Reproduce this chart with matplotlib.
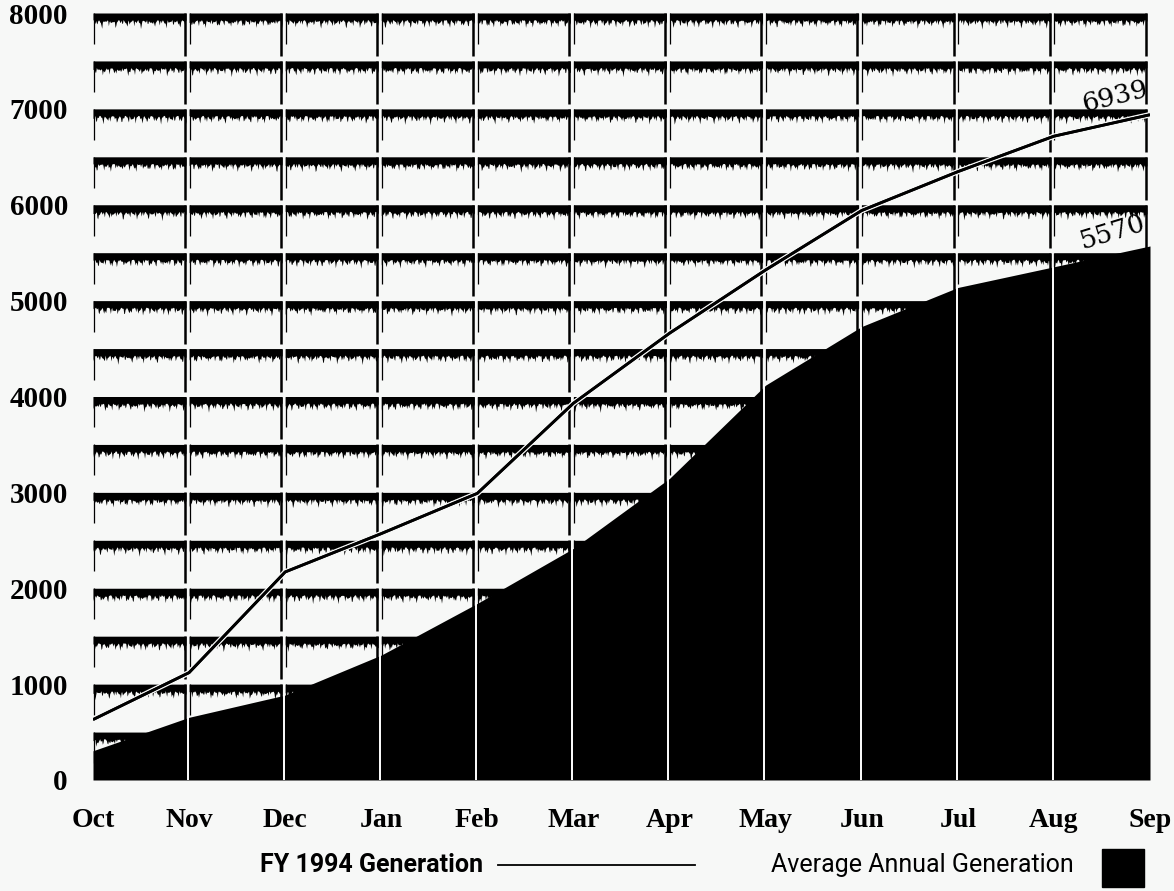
import numpy as np
import matplotlib.pyplot as plt
import matplotlib.patheffects as pe
from matplotlib.lines import Line2D
from matplotlib.patches import Rectangle

months = ['Oct', 'Nov', 'Dec', 'Jan', 'Feb', 'Mar', 'Apr', 'May', 'Jun', 'Jul', 'Aug', 'Sep']
fy1994 = [630, 1120, 2170, 2570, 2990, 3930, 4660, 5320, 5940, 6345, 6715, 6939]
avg_gen = [305, 654, 886, 1303, 1842, 2416, 3146, 4119, 4730, 5137, 5353, 5570]
y_ticks = [0, 1000, 2000, 3000, 4000, 5000, 6000, 7000, 8000]
grid_levels = np.arange(500, 8001, 500)

bg = '#f7f8f7'
fig = plt.figure(figsize=(11.74, 8.91), dpi=100, facecolor=bg)
ax = fig.add_axes([93/1174, 1 - 780/891, 1057/1174, 767/891])
ax.set_facecolor(bg)
x = np.arange(len(months))

# textured grid cells: ragged black band on top, thin line left, heavy line right
px = 8000 / 767  # data units per pixel in y
for i in range(len(months) - 1):
    x0, x1 = i, i + 1 - 0.032
    xs = np.linspace(x0, x1, 140)
    for L in grid_levels:
        rag = (0.5 * np.abs(np.sin(xs * 23.3 + L * 0.0137)) * np.abs(np.sin(xs * 61.7 + L * 0.029))
               + 0.9 * np.abs(np.sin(xs * 131.0 + L * 0.071) * np.sin(xs * 47.0 + L * 0.013)) ** 3)
        bottom = L - 6.5 * px - rag * 7 * px
        ax.fill_between(xs, bottom, L, color='black', lw=0, zorder=1)
        ax.plot([x1 - 0.012, x1 - 0.012], [L - 500 + 5 * px, L], color='black', lw=1.8,
                solid_capstyle='butt', zorder=1)
        ax.plot([x0 + 0.006, x0 + 0.006], [L - 500 + 17 * px, L], color='black', lw=0.9,
                solid_capstyle='butt', zorder=1)

# average annual generation area, with white gaps at month lines
ax.fill_between(x, 0, avg_gen, color='black', lw=0, zorder=3)
ax.vlines(x[1:-1] - 0.012, 0, avg_gen[1:-1], color='white', lw=1.4, zorder=4)

# FY 1994 generation line
ax.plot(x, fy1994, color='black', lw=2, zorder=5, solid_capstyle='butt',
        path_effects=[pe.withStroke(linewidth=4, foreground=bg)])
ax.plot(x, fy1994, color='black', lw=2, zorder=6, solid_capstyle='butt')

ax.annotate(f'{fy1994[-1]}', xy=(x[-1], fy1994[-1]), xytext=(-25, 13), textcoords='offset points',
            ha='center', va='center', rotation=14, fontsize=19, family='DejaVu Serif', zorder=7)
ax.annotate(f'{avg_gen[-1]}', xy=(x[-1], avg_gen[-1]), xytext=(-27, 10), textcoords='offset points',
            ha='center', va='center', rotation=17, fontsize=19, family='DejaVu Serif', zorder=7)

ax.set_xlim(0, 11)
ax.set_ylim(0, 8000)
ax.set_xticks(x)
ax.set_xticklabels(months, family='Liberation Serif', fontweight='bold', fontsize=20)
ax.set_yticks(y_ticks)
ax.set_yticklabels([str(v) for v in y_ticks], family='Liberation Serif', fontweight='bold',
                   fontsize=21)
ax.tick_params(axis='y', length=0, pad=18)
ax.tick_params(axis='x', length=0, pad=20)
for s in ax.spines.values():
    s.set_visible(False)

# legend row
ly = 1 - 865/891
fig.text(483/1174, ly, 'FY 1994 Generation', ha='right', va='center', fontsize=18,
         fontweight='bold', family='Roboto')
fig.add_artist(Line2D([498/1174, 695/1174], [ly, ly], color='black', lw=1.3, transform=fig.transFigure))
fig.text(922/1174, ly, 'Average Annual Generation', ha='center', va='center', fontsize=18,
         family='Roboto')
fig.add_artist(Rectangle((1102/1174, 1 - 887/891), 42/1174, 38/891, color='black',
                         transform=fig.transFigure))

fig.savefig('out.png', dpi=100, facecolor=bg)
